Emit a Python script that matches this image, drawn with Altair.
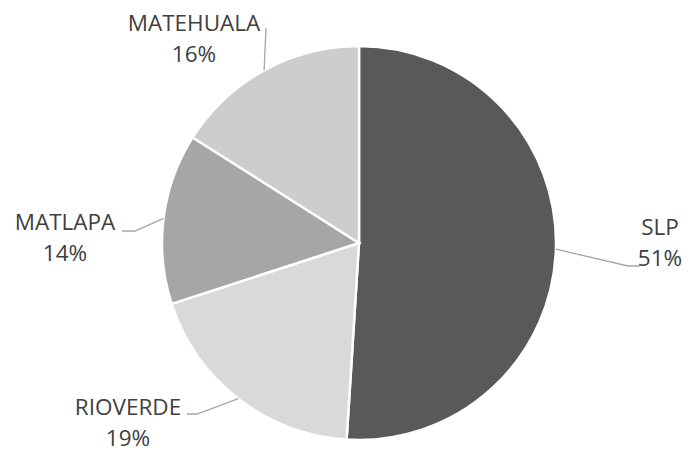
import math
import altair as alt
import pandas as pd

# ---- data ----
categories = ["SLP", "RIOVERDE", "MATLAPA", "MATEHUALA"]
values = [51, 19, 14, 16]
percent_labels = ["51%", "19%", "14%", "16%"]

# ---- style / layout ----
colors = ["#595959", "#d9d9d9", "#a6a6a6", "#cdcdcd"]
W, H = 675, 445
CX, CY, R = 351, 235, 197
LINE_GAP = 31
label_pos = [(652, 220), (120, 400), (57, 215), (186, 16)]
leader_elbows = [
    [(620, 258), (632, 258)],
    [(189, 406), (179, 406)],
    [(127, 223), (114, 223)],
    [(258, 20)],
]

total = sum(values)
rows, label_rows, line_rows = [], [], []
cum = 0
for i, (c, v, p) in enumerate(zip(categories, values, percent_labels)):
    mid = (cum + v / 2) / total * 2 * math.pi
    cum += v
    rows.append({"category": c, "value": v, "idx": i})
    lx, ly = label_pos[i]
    label_rows.append({"category": c, "text": c, "lx": lx, "ly": ly})
    label_rows.append({"category": c, "text": p, "lx": lx, "ly": ly + LINE_GAP})
    ex = CX + R * math.sin(mid)
    ey = CY - R * math.cos(mid)
    pts = [(ex, ey)] + leader_elbows[i]
    for k, (px, py) in enumerate(pts):
        line_rows.append({"category": c, "k": k, "px": px, "py": py})

df = pd.DataFrame(rows)
df_lab = pd.DataFrame(label_rows)
df_line = pd.DataFrame(line_rows)

pie = alt.Chart(df).mark_arc(radius=R, stroke="white", strokeWidth=2.5).encode(
    theta=alt.Theta("value:Q", stack=True),
    color=alt.Color("category:N", scale=alt.Scale(domain=categories, range=colors), legend=None),
    order=alt.Order("idx:Q"),
    x=alt.value(CX),
    y=alt.value(CY),
)

leaders = alt.Chart(df_line).mark_line(color="#a6a6a6", strokeWidth=1.3).encode(
    x=alt.X("px:Q", scale=None, axis=None),
    y=alt.Y("py:Q", scale=None, axis=None),
    detail="category:N",
    order="k:Q",
)

labels = alt.Chart(df_lab).mark_text(
    fontSize=22.5, font="Open Sans",
    color="#404040", align="center", baseline="middle",
).encode(
    x=alt.X("lx:Q", scale=None, axis=None),
    y=alt.Y("ly:Q", scale=None, axis=None),
    text="text:N",
)

chart = alt.layer(pie, leaders, labels).properties(
    width=W, height=H, padding=0, background="white",
    autosize=alt.AutoSizeParams(type="fit", contains="padding"),
).configure_view(strokeWidth=0, stroke="transparent")

chart.save("out.html", embed_options={"renderer": "svg", "actions": False})
